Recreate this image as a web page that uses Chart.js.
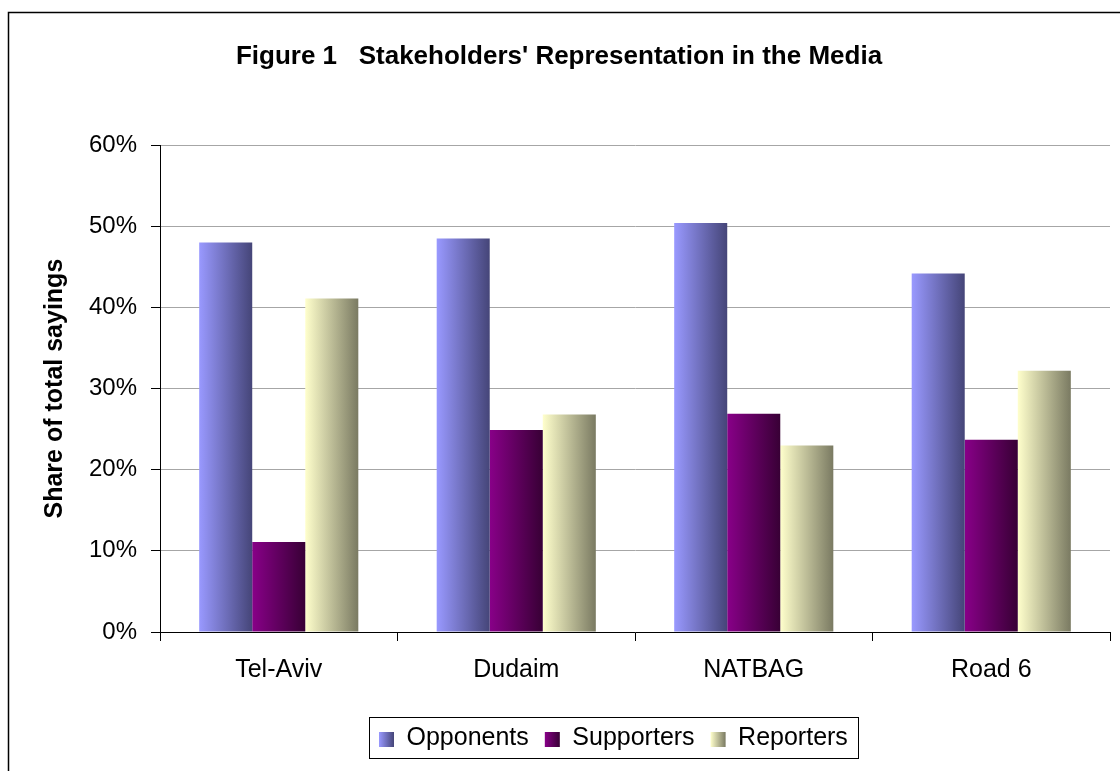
<!DOCTYPE html>
<html>
<head>
<meta charset="utf-8">
<script src="https://cdn.jsdelivr.net/npm/chart.js@4.4.1/dist/chart.umd.min.js"></script>
<style>
    html, body { margin: 0; padding: 0; background: #fff; }
    canvas { display: block; }
</style>
</head>
<body>
<canvas id="stakeholdersChart" width="1120" height="771"></canvas>
<script>
var categories = ['Tel-Aviv', 'Dudaim', 'NATBAG', 'Road 6'];
var seriesNames = ['Opponents', 'Supporters', 'Reporters'];
var opponents = [48.0, 48.5, 50.4, 44.2];
var supporters = [11.1, 24.9, 26.9, 23.7];
var reporters = [41.1, 26.8, 23.0, 32.2];
var yTicks = [0, 10, 20, 30, 40, 50, 60];

var seriesColors = [
    ['#9999ff', '#454578'],
    ['#880088', '#380035'],
    ['#ffffcc', '#7a7a62']
];
var CAT_PCT = 0.67;
var FONT = '"Liberation Sans", Arial, sans-serif';
var PLOT_BOTTOM = 632;
var LEGEND_X = 379;   // left of first legend swatch
var LEGEND_Y = 726;   // top of legend row

document.addEventListener('DOMContentLoaded', function () {
    var ctx = document.getElementById('stakeholdersChart').getContext('2d');

    // horizontal gradient per bar, worked out from the category scale
    function barGradient(c) {
        var stops = seriesColors[c.datasetIndex];
        var chart = c.chart;
        var xScale = chart.scales.x;
        if (c.type !== 'data' || !chart.chartArea || !xScale) {
            return stops[0];
        }
        var catWidth = (xScale.right - xScale.left) / categories.length * CAT_PCT;
        var barW = catWidth / seriesNames.length;
        var left = xScale.getPixelForValue(c.dataIndex) - catWidth / 2 + c.datasetIndex * barW;
        var g = chart.ctx.createLinearGradient(left, 0, left + barW, 0);
        g.addColorStop(0, stops[0]);
        g.addColorStop(1, stops[1]);
        return g;
    }

    var frames = {
        id: 'frames',
        afterUpdate: function (chart) {
            // move the legend row to where it sits in the figure
            var legend = chart.legend;
            var boxes = legend.legendHitBoxes;
            if (!boxes || !boxes.length) return;
            var dx = LEGEND_X - boxes[0].left;
            var dy = LEGEND_Y - boxes[0].top;
            legend.left += dx; legend.right += dx;
            legend.top += dy; legend.bottom += dy;
            boxes.forEach(function (hb) { hb.left += dx; hb.top += dy; });
        },
        beforeDraw: function (chart) {
            var c = chart.ctx;
            c.save();
            c.fillStyle = '#fff';
            c.fillRect(0, 0, chart.width, chart.height);
            c.restore();
        },
        afterDraw: function (chart) {
            var c = chart.ctx;
            c.save();
            // outer frame (left & top visible)
            c.strokeStyle = '#000';
            c.lineWidth = 1.5;
            c.strokeRect(8.5, 12.5, 1300, 1000);

            // legend swatches with gradients + frame
            var legend = chart.legend;
            var boxes = legend.legendHitBoxes;
            var bw = legend.options.labels.boxWidth;
            var fs = legend.options.labels.font.size;
            var minL = Infinity, maxR = -Infinity, top = boxes[0].top;
            boxes.forEach(function (hb, i) {
                var y = Math.round(hb.top + (fs - bw) / 2 + 1);
                var g = c.createLinearGradient(hb.left, 0, hb.left + bw, 0);
                g.addColorStop(0, seriesColors[i][0]);
                g.addColorStop(1, seriesColors[i][1]);
                c.fillStyle = g;
                c.fillRect(hb.left, y, bw, bw);
                minL = Math.min(minL, hb.left);
                maxR = Math.max(maxR, hb.left + hb.width);
            });
            c.strokeStyle = '#000';
            c.lineWidth = 1;
            c.strokeRect(Math.round(minL - 10) + 0.5, Math.round(top - 9) + 0.5,
                Math.round(maxR - minL + 20), 41);
            c.restore();
        }
    };

    var datasets = [opponents, supporters, reporters].map(function (vals, i) {
        return {
            label: seriesNames[i],
            data: vals,
            backgroundColor: barGradient,
            borderWidth: 0,
            categoryPercentage: CAT_PCT,
            barPercentage: 1
        };
    });

    new Chart(ctx, {
        type: 'bar',
        data: {
            labels: categories,
            datasets: datasets
        },
        options: {
            responsive: false,
            animation: false,
            layout: {
                padding: { top: 12, left: 8, right: 10, bottom: 6 }
            },
            plugins: {
                title: {
                    display: true,
                    text: "Figure 1   Stakeholders' Representation in the Media",
                    color: '#000',
                    font: { family: FONT, size: 26, weight: 'bold' },
                    padding: { top: 29, bottom: 73 }
                },
                legend: {
                    position: 'bottom',
                    align: 'start',
                    labels: {
                        color: '#000',
                        font: { family: FONT, size: 25 },
                        boxWidth: 15,
                        boxHeight: 15,
                        padding: 16,
                        generateLabels: function (chart) {
                            return Chart.defaults.plugins.legend.labels.generateLabels(chart).map(function (item) {
                                item.fillStyle = 'rgba(0,0,0,0)';
                                item.strokeStyle = 'rgba(0,0,0,0)';
                                item.lineWidth = 0;
                                return item;
                            });
                        }
                    }
                },
                tooltip: { enabled: false }
            },
            scales: {
                x: {
                    grid: {
                        display: true,
                        drawOnChartArea: false,
                        offset: true,
                        tickLength: 9,
                        tickColor: '#000'
                    },
                    border: { color: '#000', width: 1 },
                    ticks: {
                        color: '#000',
                        font: { family: FONT, size: 25 },
                        padding: 14
                    },
                    afterFit: function (scale) {
                        var lg = scale.chart.legend;
                        scale.height = scale.chart.height - 6 - (lg ? lg.height : 53) - PLOT_BOTTOM;
                    }
                },
                y: {
                    min: 0,
                    max: 60,
                    afterBuildTicks: function (scale) {
                        scale.ticks = yTicks.map(function (v) { return { value: v }; });
                    },
                    grid: {
                        color: '#a6a6a6',
                        tickLength: 9,
                        tickColor: '#000'
                    },
                    border: { color: '#000', width: 1 },
                    ticks: {
                        color: '#000',
                        font: { family: FONT, size: 24 },
                        padding: 14,
                        callback: function (v) { return v + '%'; }
                    },
                    title: {
                        display: true,
                        text: 'Share of total sayings',
                        color: '#000',
                        font: { family: FONT, size: 25, weight: 'bold' },
                        padding: { top: 32, bottom: 0 }
                    },
                    afterFit: function (scale) { scale.width = 152; }
                }
            }
        },
        plugins: [frames]
    });
});
</script>
</body>
</html>
